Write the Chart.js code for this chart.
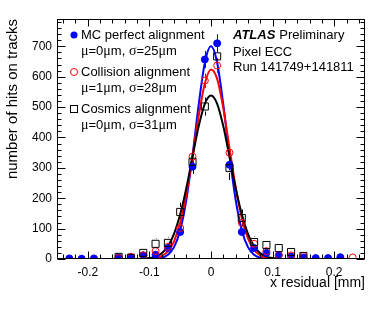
<!DOCTYPE html>
<html lang="en">
<head>
  <meta charset="UTF-8">
  <title>Pixel ECC x residuals</title>
  <script src="https://cdn.jsdelivr.net/npm/chart.js"></script>
  <style>
    html, body { margin: 0; padding: 0; background: #fff; }
  </style>
</head>
<body>
  <canvas id="resChart" width="390" height="311"></canvas>

  <script>
    // histogram bin centres (mm)
    const binCentres = [-0.23, -0.21, -0.19, -0.17, -0.15, -0.13, -0.11, -0.09, -0.07, -0.05, -0.03, -0.01,
                         0.01,  0.03,  0.05,  0.07,  0.09,  0.11,  0.13,  0.15,  0.17,  0.19,  0.21,  0.23];

    // hits per bin (null = empty bin, not drawn)
    const mcCounts        = [2, 1, 2, null, 5, 5, 12, 14, 36, 89, 304, 657, 710, 310, 89, 36, 20, 12, 8, 5, 3, 3, 6, null];
    const collisionCounts = [null, null, null, null, 3, 7, 12, 26, 40, 102, 337, 587, 637, 350, 119, 50, 26, 13, 12, 10, null, null, null, 5];
    const cosmicsCounts   = [null, null, null, null, 7, 4, 20, 50, 53, 155, 320, 502, 667, 300, 135, 56, 46, 36, 23, 10, null, null, null, null];

    // vertical error per bin
    const mcErrors        = [1.4, 1, 1.4, null, 2.2, 2.2, 3.5, 3.7, 6, 9.4, 17, 28, 30, 18, 9.4, 6, 4.5, 3.5, 2.8, 2.2, 1.7, 1.7, 2.4, null];
    const collisionErrors = [null, null, null, null, 1.7, 2.6, 3.5, 5, 6.3, 10, 18, 24, 25, 19, 11, 7, 5, 3.6, 3.5, 3.2, null, null, null, 2.2];
    const cosmicsErrors   = [null, null, null, null, 8, 6, 12, 18, 18, 30, 40, 30, 25, 40, 28, 18, 16, 14, 10, 8, null, null, null, null];

    // gaussian fit curves
    const fitX = [-0.24, -0.15, -0.12, -0.11, -0.10, -0.09, -0.08, -0.07, -0.06, -0.05, -0.04, -0.03, -0.02, -0.01, 0,
                  0.01, 0.02, 0.03, 0.04, 0.05, 0.06, 0.07, 0.08, 0.09, 0.10, 0.11, 0.12, 0.15, 0.24];
    const mcFit        = [0, 0, 0, 0, 0, 1, 4, 14, 39, 95, 195, 341, 508, 646, 700,
                          646, 508, 341, 195, 95, 39, 14, 4, 1, 0, 0, 0, 0, 0];
    const collisionFit = [0, 0, 0, 0, 1, 3, 10, 25, 58, 119, 214, 338, 471, 578, 624,
                          593, 496, 365, 237, 135, 68, 30, 12, 4, 1, 0, 0, 0, 0];
    const cosmicsFit   = [0, 0, 0, 1, 3, 8, 19, 42, 83, 147, 234, 337, 437, 511, 538,
                          511, 437, 337, 234, 147, 83, 42, 19, 8, 3, 1, 0, 0, 0];

    // axis labels
    const xTicks = [-0.2, -0.1, 0, 0.1, 0.2];
    const yTicks = [0, 100, 200, 300, 400, 500, 600, 700];

    // legend / label text
    const legendNames = ['MC perfect alignment', 'Collision alignment', 'Cosmics alignment'];
    const legendFits  = ['μ=0μm, σ=25μm', 'μ=1μm, σ=28μm', 'μ=0μm, σ=31μm'];
    const infoLines   = ['Pixel ECC', 'Run 141749+141811'];

    const SANS = '"Liberation Sans", Arial, Helvetica, sans-serif';
    const SERIF = '"Liberation Serif", "DejaVu Serif", serif';
    const BLUE = '#0000ff', RED = '#ff0000', BLACK = '#000000';

    function points(counts, errs) {
      const out = [];
      binCentres.forEach((x, i) => {
        if (counts[i] != null) out.push({ x: x, y: counts[i], e: errs[i] });
      });
      return out;
    }

    function curve(vals) {
      return fitX.map((x, i) => ({ x: x, y: vals[i] }));
    }

    // text with greek letters in a serif face, like ROOT's symbol font
    function mixedText(ctx, str, x, y, size) {
      let cx = x;
      for (const ch of str) {
        ctx.font = (/[μσ]/.test(ch) ? size + 1 + 'px ' + SERIF : size + 'px ' + SANS);
        ctx.fillText(ch, cx, y);
        cx += ctx.measureText(ch).width;
      }
    }

    function drawMarker(ctx, kind, x, y) {
      ctx.save();
      ctx.lineWidth = 1;
      if (kind === 'mc') {
        ctx.fillStyle = BLUE;
        ctx.beginPath(); ctx.arc(x, y, 3.5, 0, Math.PI * 2); ctx.fill();
      } else if (kind === 'col') {
        ctx.strokeStyle = RED;
        ctx.beginPath(); ctx.arc(x, y, 3.5, 0, Math.PI * 2); ctx.stroke();
      } else {
        ctx.strokeStyle = BLACK;
        ctx.strokeRect(x - 3.5, y - 3.5, 7, 7);
      }
      ctx.restore();
    }

    // error bars, ROOT style frame with inner ticks, legend and labels
    const rootDecor = {
      id: 'rootDecor',
      beforeDatasetsDraw(chart) {
        const ctx = chart.ctx, xs = chart.scales.x, ys = chart.scales.y, area = chart.chartArea;
        ctx.save();
        ctx.lineWidth = 1;
        chart.data.datasets.forEach(ds => {
          if (!ds.errBars) return;
          ctx.strokeStyle = ds.borderColor;
          ds.data.forEach(p => {
            if (!p.e) return;
            const px = Math.round(xs.getPixelForValue(p.x)) + 0.5;
            const yc = ys.getPixelForValue(p.y);
            const y1 = Math.max(area.top, ys.getPixelForValue(p.y + p.e));
            const y2 = Math.min(area.bottom, ys.getPixelForValue(p.y - p.e));
            const gap = ds.pointRadius;
            ctx.beginPath();
            if (y1 < yc - gap) { ctx.moveTo(px, y1); ctx.lineTo(px, yc - gap); }
            if (y2 > yc + gap) { ctx.moveTo(px, yc + gap); ctx.lineTo(px, y2); }
            ctx.stroke();
          });
        });
        ctx.restore();
      },
      afterDraw(chart) {
        const ctx = chart.ctx, xs = chart.scales.x, ys = chart.scales.y, a = chart.chartArea;
        const L = Math.round(a.left) + 0.5, R = Math.round(a.right) - 0.5;
        const T = Math.round(a.top) + 0.5, B = Math.round(a.bottom) - 0.5;
        ctx.save();
        ctx.strokeStyle = BLACK;
        ctx.lineWidth = 1;
        ctx.strokeRect(L, T, R - L, B - T);
        ctx.beginPath();
        // x ticks (bottom and top)
        for (let k = -12; k <= 12; k++) {
          const v = k * 0.02;
          const px = Math.round(xs.getPixelForValue(v)) + 0.5;
          const len = (k % 5 === 0) ? 7 : 4;
          ctx.moveTo(px, B); ctx.lineTo(px, B - len);
          ctx.moveTo(px, T); ctx.lineTo(px, T + len);
        }
        // y ticks (left and right)
        for (let v = 0; v <= 780; v += 20) {
          const py = Math.round(ys.getPixelForValue(v)) + 0.5;
          const len = (v % 100 === 0) ? 8 : 4;
          ctx.moveTo(L, py); ctx.lineTo(L + len, py);
          ctx.moveTo(R, py); ctx.lineTo(R - len, py);
        }
        ctx.stroke();

        // legend
        const kinds = ['mc', 'col', 'cos'];
        const rowY = [35, 72, 109];
        ctx.fillStyle = BLACK;
        ctx.textBaseline = 'middle';
        ctx.textAlign = 'left';
        kinds.forEach((k, i) => {
          drawMarker(ctx, k, 74, rowY[i]);
          ctx.fillStyle = BLACK;
          ctx.font = '13px ' + SANS;
          ctx.fillText(legendNames[i], 81, rowY[i]);
          mixedText(ctx, legendFits[i], 81, rowY[i] + 16, 13);
        });

        // ATLAS label
        ctx.font = 'italic bold 13px ' + SANS;
        ctx.fillText('ATLAS', 233, 35);
        const w = ctx.measureText('ATLAS').width;
        ctx.font = '13px ' + SANS;
        ctx.fillText('Preliminary', 233 + w + 4, 35);
        ctx.fillText(infoLines[0], 233, 52);
        ctx.fillText(infoLines[1], 233, 67);
        ctx.restore();
      }
    };

    const ctx = document.getElementById('resChart').getContext('2d');
    new Chart(ctx, {
      type: 'scatter',
      data: {
        datasets: [
          { label: 'MC points', data: points(mcCounts, mcErrors), errBars: true,
            borderColor: BLUE, backgroundColor: BLUE, pointStyle: 'circle', pointRadius: 3.5, borderWidth: 1, order: 3 },
          { label: 'Collision points', data: points(collisionCounts, collisionErrors), errBars: true,
            borderColor: RED, backgroundColor: 'rgba(0,0,0,0)', pointStyle: 'circle', pointRadius: 3.5, borderWidth: 1, order: 2 },
          { label: 'Cosmics points', data: points(cosmicsCounts, cosmicsErrors), errBars: true,
            borderColor: BLACK, backgroundColor: 'rgba(0,0,0,0)', pointStyle: 'rect', pointRadius: 5, borderWidth: 1, order: 1 },
          { label: 'MC fit', data: curve(mcFit), showLine: true, borderColor: BLUE, borderWidth: 2,
            pointRadius: 0, cubicInterpolationMode: 'monotone', order: 6 },
          { label: 'Collision fit', data: curve(collisionFit), showLine: true, borderColor: RED, borderWidth: 2,
            pointRadius: 0, cubicInterpolationMode: 'monotone', order: 5 },
          { label: 'Cosmics fit', data: curve(cosmicsFit), showLine: true, borderColor: BLACK, borderWidth: 2,
            pointRadius: 0, cubicInterpolationMode: 'monotone', order: 4 }
        ]
      },
      options: {
        responsive: false,
        animation: false,
        devicePixelRatio: 1,
        layout: { padding: { top: 19, right: 25, left: 0, bottom: 0 } },
        plugins: { legend: { display: false }, tooltip: { enabled: false } },
        scales: {
          x: {
            type: 'linear', min: -0.25, max: 0.25,
            afterBuildTicks: s => { s.ticks = xTicks.map(v => ({ value: v })); },
            afterFit: s => { s.height = 52; },
            grid: { display: false, drawTicks: false },
            border: { display: false },
            ticks: {
              padding: 6, color: BLACK, autoSkip: false, maxRotation: 0,
              font: { family: SANS, size: 12 },
              callback: v => (v === 0 ? '0' : v.toFixed(1))
            },
            title: {
              display: true, text: 'x residual [mm]', align: 'end', color: BLACK,
              font: { family: SANS, size: 14 }, padding: { top: 0, bottom: 19 }
            }
          },
          y: {
            type: 'linear', min: 0, max: 790,
            afterBuildTicks: s => { s.ticks = yTicks.map(v => ({ value: v })); },
            afterFit: s => { s.width = 57; },
            grid: { display: false, drawTicks: false },
            border: { display: false },
            ticks: {
              padding: 5, color: BLACK, autoSkip: false,
              font: { family: SANS, size: 12 }
            },
            title: {
              display: true, text: 'number of hits on tracks', align: 'end', color: BLACK,
              font: { family: SANS, size: 15 }, padding: { top: 4, bottom: 0 }
            }
          }
        }
      },
      plugins: [rootDecor]
    });
  </script>
</body>
</html>
